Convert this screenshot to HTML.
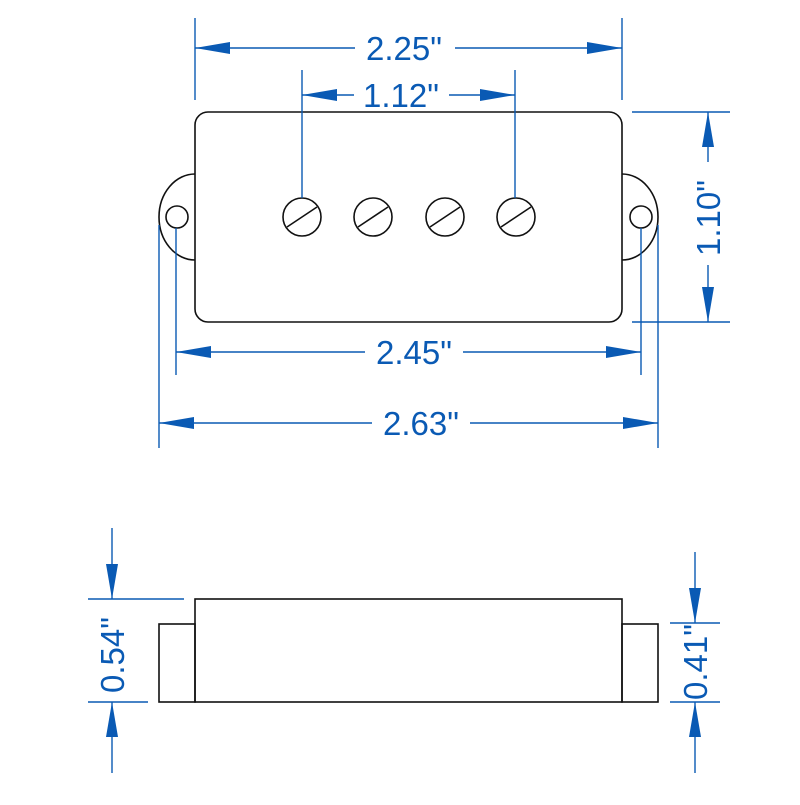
<!DOCTYPE html>
<html><head><style>html,body{margin:0;padding:0;background:#fff}</style></head><body>
<svg width="800" height="800" viewBox="0 0 800 800" xmlns="http://www.w3.org/2000/svg">
<g fill="none" stroke="#111" stroke-width="1.6">
  <rect x="195" y="112" width="427" height="210" rx="13"/>
  <path d="M195 174 A36 43 0 0 0 195 260"/>
  <path d="M622 174 A36 43 0 0 1 622 260"/>
  <circle cx="177" cy="217" r="11"/>
  <circle cx="641" cy="217" r="11"/>
  <g>
    <circle cx="302" cy="217" r="19"/><line x1="287" y1="227" x2="317" y2="207"/>
    <circle cx="373" cy="217" r="19"/><line x1="358" y1="227" x2="388" y2="207"/>
    <circle cx="445" cy="217" r="19"/><line x1="430" y1="227" x2="460" y2="207"/>
    <circle cx="516" cy="217" r="19"/><line x1="501" y1="227" x2="531" y2="207"/>
  </g>
  <rect x="195" y="599" width="427" height="103"/>
  <rect x="159" y="624" width="36" height="78"/>
  <rect x="622" y="624" width="36" height="78"/>
</g>
<g stroke="#0a5ab4" stroke-width="1.4" fill="none">
  <line x1="195" y1="18" x2="195" y2="100"/><line x1="622" y1="18" x2="622" y2="100"/>
  <line x1="195" y1="48" x2="355" y2="48"/><line x1="455" y1="48" x2="622" y2="48"/>
  <line x1="302" y1="70" x2="302" y2="198"/><line x1="515" y1="70" x2="515" y2="198"/>
  <line x1="302" y1="95" x2="354" y2="95"/><line x1="449" y1="95" x2="515" y2="95"/>
  <line x1="632" y1="112" x2="730" y2="112"/><line x1="632" y1="322" x2="730" y2="322"/>
  <line x1="708" y1="112" x2="708" y2="162"/><line x1="708" y1="265" x2="708" y2="322"/>
  <line x1="176" y1="228" x2="176" y2="375"/><line x1="641" y1="228" x2="641" y2="375"/>
  <line x1="176" y1="352" x2="365" y2="352"/><line x1="463" y1="352" x2="641" y2="352"/>
  <line x1="159" y1="225" x2="159" y2="448"/><line x1="658" y1="225" x2="658" y2="448"/>
  <line x1="159" y1="423" x2="372" y2="423"/><line x1="470" y1="423" x2="658" y2="423"/>
  <line x1="88" y1="599" x2="184" y2="599"/><line x1="88" y1="702" x2="148" y2="702"/>
  <line x1="112" y1="528" x2="112" y2="599"/><line x1="112" y1="702" x2="112" y2="773"/>
  <line x1="670" y1="623" x2="720" y2="623"/><line x1="670" y1="702" x2="720" y2="702"/>
  <line x1="695" y1="552" x2="695" y2="623"/><line x1="695" y1="702" x2="695" y2="773"/>
</g>
<g fill="#0a5ab4">
  <polygon points="195,48 230,42 230,54"/><polygon points="622,48 587,42 587,54"/>
  <polygon points="302,95 337,89 337,101"/><polygon points="515,95 480,89 480,101"/>
  <polygon points="708,112 702,147 714,147"/><polygon points="708,322 702,287 714,287"/>
  <polygon points="176,352 211,346 211,358"/><polygon points="641,352 606,346 606,358"/>
  <polygon points="159,423 194,417 194,429"/><polygon points="658,423 623,417 623,429"/>
  <polygon points="112,599 106,564 118,564"/><polygon points="112,702 106,737 118,737"/>
  <polygon points="695,623 689,588 701,588"/><polygon points="695,702 689,737 701,737"/>
</g>
<g fill="#0a5ab4" font-family="Liberation Sans, sans-serif" font-size="33" text-anchor="middle">
  <text x="404" y="60">2.25"</text>
  <text x="401" y="107">1.12"</text>
  <text x="414" y="364">2.45"</text>
  <text x="421" y="435">2.63"</text>
  <text transform="translate(720,218) rotate(-90)">1.10"</text>
  <text transform="translate(124,655) rotate(-90)">0.54"</text>
  <text transform="translate(707,662) rotate(-90)">0.41"</text>
</g>
</svg>
</body></html>
